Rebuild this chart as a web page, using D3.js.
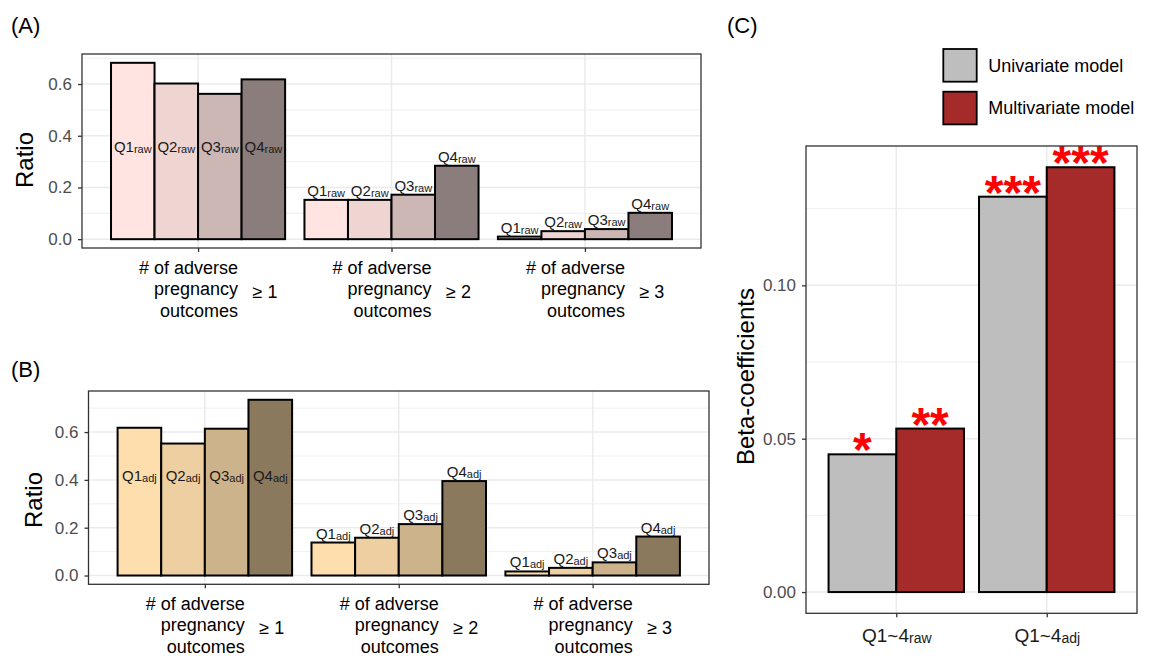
<!DOCTYPE html>
<html>
<head>
<meta charset="utf-8">
<script src="https://cdn.jsdelivr.net/npm/d3@7"></script>
<style>
  body { margin: 0; background: #fff; }
  svg { display: block; font-family: "Liberation Sans", Arial, sans-serif; }
</style>
</head>
<body>
<div id="chart"></div>
<script>
// ---- data ----
var groups = ['≥ 1', '≥ 2', '≥ 3'];
var quartiles = ['Q1', 'Q2', 'Q3', 'Q4'];
var rawRatio = [
  [0.682, 0.602, 0.562, 0.618],
  [0.152, 0.152, 0.172, 0.284],
  [0.010, 0.031, 0.039, 0.102]
];
var adjRatio = [
  [0.618, 0.552, 0.614, 0.735],
  [0.138, 0.158, 0.215, 0.395],
  [0.017, 0.032, 0.055, 0.163]
];
var ratioTicks = [0, 0.2, 0.4, 0.6];

var betaGroups = ['raw', 'adj'];
var models = ['Univariate model', 'Multivariate model'];
var betaUni = [0.0449, 0.1289];
var betaMulti = [0.0533, 0.1385];
var starsUni = ['*', '***'];
var starsMulti = ['**', '***'];
var betaTicks = [0, 0.05, 0.10];

// ---- styles ----
var rawColors = ['#FFE4E1', '#EED5D2', '#CDB7B5', '#8B7D7B'];
var adjColors = ['#FFDEAD', '#EECFA1', '#CDB38B', '#8B795E'];
var modelColors = ['#BEBEBE', '#A52A2A'];

var svg = d3.select('#chart').append('svg')
            .attr('width', 1151)
            .attr('height', 656);

svg.append('rect').attr('width', 1151).attr('height', 656).attr('fill', '#fff');

/* ---
 * ggplot-like discrete x scale (0.6 step of padding on each side)
 */
function discreteX(domain, box) {
  return d3.scalePoint().domain(domain).range([box.left, box.right]).padding(0.6);
}

/* ---
 * y scale with the default 5% expansion on both sides
 */
function expandedY(maxVal, box) {
  return d3.scaleLinear()
           .domain([-0.05 * maxVal, 1.05 * maxVal])
           .range([box.bottom, box.top]);
}

/* ---
 * grid lines of one panel
 */
function drawFrame(box, x, y, ticks) {
  var g = svg.append('g');
  var step = ticks[1] - ticks[0];
  var minor = [];
  for (var v = ticks[0] - step / 2; v <= y.domain()[1]; v += step) {
    if (v >= y.domain()[0]) minor.push(v);
  }

  g.selectAll('line.minor').data(minor).enter().append('line')
   .attr('class', 'minor')
   .attr('x1', box.left).attr('x2', box.right)
   .attr('y1', d => y(d)).attr('y2', d => y(d))
   .attr('stroke', '#EBEBEB').attr('stroke-width', 0.8);

  g.selectAll('line.major').data(ticks).enter().append('line')
   .attr('class', 'major')
   .attr('x1', box.left).attr('x2', box.right)
   .attr('y1', d => y(d)).attr('y2', d => y(d))
   .attr('stroke', '#EBEBEB').attr('stroke-width', 1.5);

  g.selectAll('line.vmajor').data(x.domain()).enter().append('line')
   .attr('class', 'vmajor')
   .attr('x1', d => x(d)).attr('x2', d => x(d))
   .attr('y1', box.top).attr('y2', box.bottom)
   .attr('stroke', '#EBEBEB').attr('stroke-width', 1.5);

  return g;
}

/* ---
 * axes, ticks and panel border
 */
function drawAxes(box, x, y, ticks, fmt) {
  var left = svg.append('g')
                .attr('transform', 'translate(' + box.left + ',0)')
                .call(d3.axisLeft(y).tickValues(ticks).tickFormat(fmt).tickSize(4).tickPadding(6));
  left.select('.domain').remove();
  left.selectAll('line').attr('stroke', '#333').attr('stroke-width', 1.3);
  left.selectAll('text').attr('fill', '#4D4D4D').attr('font-size', 17)
      .attr('font-family', '"Liberation Sans", Arial, sans-serif');

  var bottom = svg.append('g')
                  .attr('transform', 'translate(0,' + box.bottom + ')')
                  .call(d3.axisBottom(x).tickSize(4).tickFormat(''));
  bottom.select('.domain').remove();
  bottom.selectAll('line').attr('stroke', '#333').attr('stroke-width', 1.3);

  svg.append('rect')
     .attr('x', box.left).attr('y', box.top)
     .attr('width', box.right - box.left).attr('height', box.bottom - box.top)
     .attr('fill', 'none').attr('stroke', '#333').attr('stroke-width', 1.3);
  return bottom;
}

function yTitle(text, x, y) {
  svg.append('text')
     .attr('transform', 'translate(' + x + ',' + y + ') rotate(-90)')
     .attr('text-anchor', 'middle')
     .attr('font-size', 24)
     .attr('fill', '#000')
     .text(text);
}

function panelTag(text, x, y) {
  svg.append('text').attr('x', x).attr('y', y)
     .attr('font-size', 22).attr('fill', '#000').text(text);
}

/* ---
 * panels (A) and (B): grouped ratio bars
 */
function ratioPanel(box, values, colors, sub, labelY) {
  var x = discreteX(groups, box);
  var step = x.step();
  var inner = d3.scaleBand().domain(quartiles).range([-0.45 * step, 0.45 * step]);
  var y = expandedY(d3.max(values.flat()), box);

  drawFrame(box, x, y, ratioTicks);

  var rows = [];
  values.forEach(function(row, i) {
    row.forEach(function(v, j) {
      rows.push({ group: groups[i], gi: i, q: quartiles[j], qi: j, value: v });
    });
  });

  var bars = svg.append('g');
  bars.selectAll('rect').data(rows).enter().append('rect')
      .attr('x', d => x(d.group) + inner(d.q))
      .attr('y', d => y(d.value))
      .attr('width', inner.bandwidth())
      .attr('height', d => y(0) - y(d.value))
      .attr('fill', d => colors[d.qi])
      .attr('stroke', '#000')
      .attr('stroke-width', 2);

  var labels = bars.selectAll('text').data(rows).enter().append('text')
      .attr('x', d => x(d.group) + inner(d.q) + inner.bandwidth() / 2)
      .attr('y', d => d.gi === 0 ? y(labelY) : y(d.value) - 4)
      .attr('dy', d => d.gi === 0 ? '0.35em' : 0)
      .attr('text-anchor', 'middle')
      .attr('fill', '#1A1A1A');
  labels.append('tspan').attr('font-size', 15).text(d => d.q);
  labels.append('tspan').attr('font-size', 11).attr('dy', 1).text(sub);

  drawAxes(box, x, y, ratioTicks, d3.format('.1f'));

  var lab = svg.append('g');
  groups.forEach(function(gname) {
    var cx = x(gname);
    var t = lab.append('text')
               .attr('text-anchor', 'end')
               .attr('font-size', 18)
               .attr('fill', '#000');
    ['# of adverse', 'pregnancy', 'outcomes'].forEach(function(line, k) {
      t.append('tspan').attr('x', cx + 40).attr('y', box.bottom + 25.5 + k * 21.5).text(line);
    });
    lab.append('text')
       .attr('x', cx + 54.5).attr('y', box.bottom + 25.5 + 21.5 + 3)
       .attr('font-size', 18).attr('fill', '#000')
       .text(gname);
  });
}

ratioPanel({ left: 82, top: 54, right: 701, bottom: 248 }, rawRatio, rawColors, 'raw', 0.36);
ratioPanel({ left: 88.5, top: 391, right: 709, bottom: 584.3 }, adjRatio, adjColors, 'adj', 0.42);

yTitle('Ratio', 33, 160);
yTitle('Ratio', 41.7, 500);
panelTag('(A)', 11, 33);
panelTag('(B)', 11, 377);

/* ---
 * panel (C): beta coefficients
 */
(function() {
  var box = { left: 806, top: 146, right: 1137, bottom: 613.3 };
  var x = discreteX(betaGroups, box);
  var step = x.step();
  var inner = d3.scaleBand().domain(models).range([-0.45 * step, 0.45 * step]);
  var y = expandedY(d3.max(betaUni.concat(betaMulti)), box);

  drawFrame(box, x, y, betaTicks);

  var rows = [];
  betaGroups.forEach(function(gname, i) {
    rows.push({ group: gname, model: models[0], mi: 0, value: betaUni[i], star: starsUni[i] });
    rows.push({ group: gname, model: models[1], mi: 1, value: betaMulti[i], star: starsMulti[i] });
  });

  var bars = svg.append('g');
  bars.selectAll('rect').data(rows).enter().append('rect')
      .attr('x', d => x(d.group) + inner(d.model))
      .attr('y', d => y(d.value))
      .attr('width', inner.bandwidth())
      .attr('height', d => y(0) - y(d.value))
      .attr('fill', d => modelColors[d.mi])
      .attr('stroke', '#000')
      .attr('stroke-width', 2);

  bars.selectAll('text').data(rows).enter().append('text')
      .attr('x', d => x(d.group) + inner(d.model) + inner.bandwidth() / 2)
      .attr('y', d => y(d.value) + 12)
      .attr('text-anchor', 'middle')
      .attr('font-size', 48)
      .attr('font-weight', 'bold')
      .attr('fill', '#FF0000')
      .text(d => d.star);

  var bottom = drawAxes(box, x, y, betaTicks, d3.format('.2f'));
  var ticks = bottom.selectAll('.tick text')
                    .text('')
                    .attr('y', 28.4).attr('dy', 0)
                    .attr('fill', '#1A1A1A')
                    .attr('font-family', '"Liberation Sans", Arial, sans-serif');
  ticks.append('tspan').attr('font-size', 19).text('Q1~4');
  ticks.append('tspan').attr('font-size', 14).attr('dy', 1).text(d => d);

  yTitle('Beta-coefficients', 754.3, 376.5);
  panelTag('(C)', 727, 33);

  var legend = svg.append('g').attr('transform', 'translate(943.3,49)');
  var item = legend.selectAll('g').data(models).enter().append('g')
                   .attr('transform', (d, i) => 'translate(0,' + i * 42.7 + ')');
  item.append('rect')
      .attr('width', 33.4).attr('height', 32.7)
      .attr('fill', (d, i) => modelColors[i])
      .attr('stroke', '#000').attr('stroke-width', 1.8);
  item.append('text')
      .attr('x', 45).attr('y', 16.5).attr('dy', '0.35em')
      .attr('font-size', 18).attr('fill', '#000')
      .text(d => d);
})();
</script>
</body>
</html>
